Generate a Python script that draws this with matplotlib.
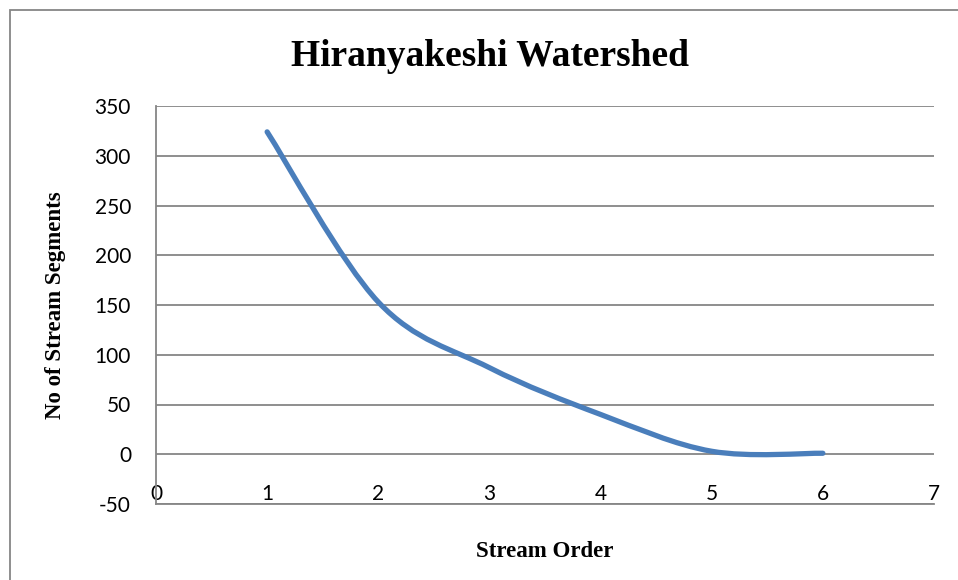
import matplotlib
matplotlib.use("Agg")
import matplotlib.pyplot as plt
from matplotlib.path import Path
from matplotlib.patches import PathPatch, Rectangle

plt.rcParams['axes.unicode_minus'] = False

# stream order vs number of segments
order = [1, 2, 3, 4, 5, 6]
segments = [324, 153, 87, 40, 3, 1]

xticks = [0, 1, 2, 3, 4, 5, 6, 7]
yticks = [-50, 0, 50, 100, 150, 200, 250, 300, 350]

fig = plt.figure(figsize=(9.58, 5.8), dpi=100)
ax = fig.add_axes([156/958, 1-504/580, (934-156)/958, (504-106)/580])

# excel-like smoothed line: bezier through the points (catmull-rom handles)
n = len(order)
verts = [(order[0], segments[0])]
codes = [Path.MOVETO]
for i in range(n-1):
    p0 = (order[max(i-1, 0)], segments[max(i-1, 0)])
    p1 = (order[i], segments[i])
    p2 = (order[i+1], segments[i+1])
    p3 = (order[min(i+2, n-1)], segments[min(i+2, n-1)])
    c1 = (p1[0] + (p2[0]-p0[0])/6., p1[1] + (p2[1]-p0[1])/6.)
    c2 = (p2[0] - (p3[0]-p1[0])/6., p2[1] - (p3[1]-p1[1])/6.)
    verts += [c1, c2, p2]
    codes += [Path.CURVE4]*3
patch = PathPatch(Path(verts, codes), facecolor='none', edgecolor='#4a7ebb',
                  lw=3.8, capstyle='round', joinstyle='round', zorder=3)
ax.add_patch(patch)

ax.set_xlim(0, 7)
ax.set_ylim(-50, 350)
ax.set_yticks(yticks)
ax.set_xticks(xticks)
ax.yaxis.grid(True, color='#868686', lw=1.3)
ax.set_axisbelow(True)
for s in ['top', 'right']:
    ax.spines[s].set_visible(False)
for s in ['left', 'bottom']:
    ax.spines[s].set_color('#868686')
    ax.spines[s].set_linewidth(1.3)
ax.tick_params(length=0)
ax.tick_params(axis='y', pad=18)
ax.tick_params(axis='x', pad=0)
for lab in ax.get_yticklabels() + ax.get_xticklabels():
    lab.set_family('Lato')
    lab.set_fontsize(15)
for lab in ax.get_xticklabels():
    lab.set_verticalalignment('bottom')

fig.text(490/958, 1-56/580, "Hiranyakeshi Watershed", family='Liberation Serif',
         weight='bold', fontsize=27, ha='center', va='center')
ax.set_xlabel("Stream Order", family='Liberation Serif', weight='bold',
              fontsize=16.5)
ax.xaxis.set_label_coords(0.5, -(541-504)/398)
ax.set_ylabel("No of Stream Segments", family='Liberation Serif', weight='bold',
              fontsize=16.5, va='center')
ax.yaxis.set_label_coords(-(156-56)/778, 0.5)

fig.patches.append(Rectangle((10/958, -0.1), 1.2, 1-10/580+0.1,
                             transform=fig.transFigure, fill=False,
                             edgecolor='#868686', lw=1.3))

fig.savefig('out.png', dpi=100)
